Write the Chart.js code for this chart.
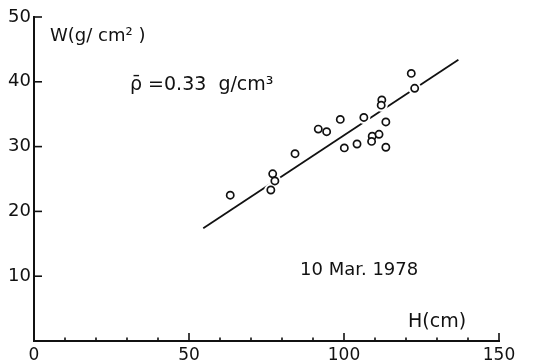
<!DOCTYPE html>
<html>
<head>
<meta charset="utf-8">
<script src="https://cdn.jsdelivr.net/npm/chart.js@4.4.1/dist/chart.umd.min.js"></script>
<style>
  html, body { margin: 0; padding: 0; background: #fff; }
  #wrap { width: 547px; height: 364px; }
</style>
</head>
<body>
<div id="wrap"><canvas id="chart" width="547" height="364"></canvas></div>
<script>
// snow depth H (cm) vs water equivalent W (g/cm2), 10 Mar. 1978
const depthH = [63.3, 77.0, 77.7, 76.4, 84.2, 91.7, 94.4, 98.8, 100.1, 104.2,
                106.4, 109.1, 108.9, 111.3, 113.5, 113.5, 112.2, 112.0, 122.8, 121.7];
const waterW = [22.5, 25.8, 24.7, 23.3, 28.9, 32.7, 32.3, 34.2, 29.8, 30.4,
                34.5, 31.6, 30.8, 31.9, 29.9, 33.8, 37.2, 36.4, 39.0, 41.3];

// fitted line end points
const fitH = [54.6, 136.9];
const fitW = [17.4, 43.4];

// axis ticks
const xLabelTicks = [0, 50, 100, 150];
const yLabelTicks = [10, 20, 30, 40, 50];

const ink = '#111';
const fontFamily = "'DejaVu Sans', 'Liberation Sans', sans-serif";

const points = depthH.map((h, i) => ({ x: h, y: waterW[i] }));
const fitLine = fitH.map((h, i) => ({ x: h, y: fitW[i] }));

// ticks point inward, like the original drawing
const inwardTicks = {
    id: 'inwardTicks',
    afterDraw(chart) {
        const { ctx, chartArea, scales } = chart;
        ctx.save();
        ctx.strokeStyle = ink;
        ctx.lineWidth = 1.6;
        scales.x.ticks.forEach(t => {
            if (t.value === 0) return;
            const px = scales.x.getPixelForValue(t.value);
            const len = xLabelTicks.includes(t.value) ? 8 : 3.5;
            ctx.beginPath();
            ctx.moveTo(px, chartArea.bottom);
            ctx.lineTo(px, chartArea.bottom - len);
            ctx.stroke();
        });
        scales.y.ticks.forEach(t => {
            if (!yLabelTicks.includes(t.value)) return;
            const py = scales.y.getPixelForValue(t.value);
            ctx.beginPath();
            ctx.moveTo(chartArea.left, py);
            ctx.lineTo(chartArea.left + 8, py);
            ctx.stroke();
        });
        ctx.restore();
    }
};

const labels = {
    id: 'labels',
    afterDraw(chart) {
        const { ctx } = chart;
        ctx.save();
        ctx.fillStyle = ink;
        ctx.textAlign = 'left';
        ctx.textBaseline = 'alphabetic';
        ctx.font = '18px ' + fontFamily;
        ctx.fillText('W(g/ cm² )', 50, 41);
        ctx.font = '19px ' + fontFamily;
        ctx.fillText('ρ̄ =0.33  g/cm³', 130, 90);
        ctx.font = '18px ' + fontFamily;
        ctx.fillText('10 Mar. 1978', 300, 275);
        ctx.font = '19px ' + fontFamily;
        ctx.fillText('H(cm)', 408, 327);
        ctx.restore();
    }
};

new Chart(document.getElementById('chart'), {
    type: 'scatter',
    data: {
        datasets: [
            {
                label: 'samples',
                data: points,
                pointStyle: 'circle',
                pointRadius: 3.6,
                pointBorderWidth: 1.7,
                pointBorderColor: ink,
                pointBackgroundColor: '#fff',
                order: 0
            },
            {
                // white halo so the line breaks around the circles
                label: 'halo',
                data: points,
                pointRadius: 6.5,
                pointBorderWidth: 0,
                pointBackgroundColor: '#fff',
                order: 1
            },
            {
                type: 'line',
                label: 'fit',
                data: fitLine,
                borderColor: ink,
                borderWidth: 1.8,
                pointRadius: 0,
                fill: false,
                order: 2
            }
        ]
    },
    options: {
        responsive: false,
        animation: false,
        events: [],
        layout: { padding: { top: 17, right: 48, left: 0, bottom: 0 } },
        plugins: { legend: { display: false }, tooltip: { enabled: false } },
        scales: {
            x: {
                type: 'linear',
                min: 0,
                max: 150,
                grid: { display: true, drawOnChartArea: false, drawTicks: false },
                border: { display: true, color: ink, width: 2 },
                ticks: {
                    stepSize: 10,
                    autoSkip: false,
                    maxRotation: 0,
                    padding: 4,
                    color: ink,
                    font: { family: fontFamily, size: 17 },
                    callback: v => xLabelTicks.includes(v) ? String(v) : ''
                },
                afterFit: s => { s.height = 23; }
            },
            y: {
                type: 'linear',
                min: 0,
                max: 50,
                grid: { display: true, drawOnChartArea: false, drawTicks: false },
                border: { display: true, color: ink, width: 2 },
                ticks: {
                    stepSize: 10,
                    padding: 3,
                    color: ink,
                    font: { family: fontFamily, size: 18 },
                    callback: v => yLabelTicks.includes(v) ? String(v) : ''
                },
                afterFit: s => { s.width = 34; }
            }
        }
    },
    plugins: [inwardTicks, labels]
});
</script>
</body>
</html>
